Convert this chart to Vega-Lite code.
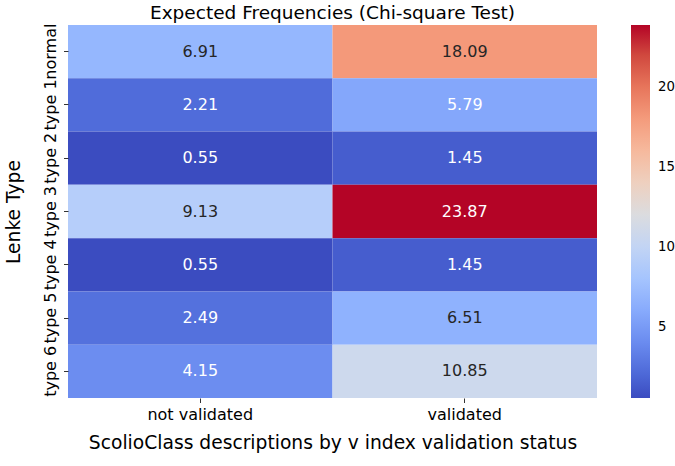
{
  "$schema": "https://vega.github.io/schema/vega-lite/v6.json",
  "autosize": "none",
  "width": 529,
  "height": 373,
  "padding": {"left": 68, "top": 25, "right": 78, "bottom": 68},
  "background": "white",
  "title": {"text": "Expected Frequencies (Chi-square Test)", "fontSize": 18.5, "font": "DejaVu Sans", "fontWeight": "normal", "anchor": "middle", "offset": 1, "color": "#000000"},
  "data": {"values": [
    {"type": "normal", "status": "not validated", "value": 6.91},
    {"type": "normal", "status": "validated", "value": 18.09},
    {"type": "type 1", "status": "not validated", "value": 2.21},
    {"type": "type 1", "status": "validated", "value": 5.79},
    {"type": "type 2", "status": "not validated", "value": 0.55},
    {"type": "type 2", "status": "validated", "value": 1.45},
    {"type": "type 3", "status": "not validated", "value": 9.13},
    {"type": "type 3", "status": "validated", "value": 23.87},
    {"type": "type 4", "status": "not validated", "value": 0.55},
    {"type": "type 4", "status": "validated", "value": 1.45},
    {"type": "type 5", "status": "not validated", "value": 2.49},
    {"type": "type 5", "status": "validated", "value": 6.51},
    {"type": "type 6", "status": "not validated", "value": 4.15},
    {"type": "type 6", "status": "validated", "value": 10.85}
  ]},
  "encoding": {
    "x": {"field": "status", "type": "nominal", "sort": ["not validated", "validated"],
      "scale": {"paddingInner": 0, "paddingOuter": 0},
      "axis": {"title": "ScolioClass descriptions by v index validation status", "labelAngle": 0, "domain": false, "tickSize": 4.5, "tickColor": "#333333", "labelPadding": 4, "titlePadding": 11, "labelOverlap": false}},
    "y": {"field": "type", "type": "nominal", "sort": ["normal", "type 1", "type 2", "type 3", "type 4", "type 5", "type 6"],
      "scale": {"paddingInner": 0, "paddingOuter": 0},
      "axis": {"title": "Lenke Type", "labelAngle": 270, "labelAlign": "center", "labelBaseline": "bottom", "domain": false, "tickSize": 4.5, "tickColor": "#333333", "labelPadding": 5, "titlePadding": 19, "labelOverlap": false}}
  },
  "layer": [
    {"mark": {"type": "rect"},
      "encoding": {"color": {"field": "value", "type": "quantitative",
        "scale": {"type": "linear",
          "domain": [0.55, 2.0075, 3.465, 4.9225, 6.38, 7.8375, 9.295, 10.7525, 12.21, 13.6675, 15.125, 16.5825, 18.04, 19.4975, 20.955, 22.4125, 23.87],
          "range": ["#3b4cc0", "#4d68d7", "#6282ea", "#779af7", "#8db0fe", "#a3c2ff", "#b8d0f9", "#ccd9ee", "#dddddd", "#ecd3c5", "#f5c4ac", "#f7b193", "#f49a7b", "#ec7f63", "#de604d", "#cb3e38", "#b40426"]},
        "legend": {"title": null, "values": [5, 10, 15, 20], "gradientLength": 373, "gradientThickness": 19, "offset": 34, "gradientStrokeWidth": 0, "labelOffset": 8, "labelFontSize": 13.3, "labelFont": "DejaVu Sans", "labelColor": "#000000"}}}},
    {"mark": {"type": "text", "fontSize": 16, "font": "DejaVu Sans"},
      "encoding": {
        "text": {"field": "value", "type": "quantitative", "format": ".2f"},
        "color": {"condition": {"test": "datum.value < 6 || datum.value > 20", "value": "#ffffff"}, "value": "#262626"}}}
  ],
  "config": {
    "view": {"stroke": null},
    "legend": {"gradientVerticalMaxLength": 400, "gradientVerticalMinLength": 100},
    "axis": {"labelFont": "DejaVu Sans", "labelFontSize": 16, "labelColor": "#000000", "titleFont": "DejaVu Sans", "titleFontSize": 18.7, "titleFontWeight": "normal", "titleColor": "#000000", "grid": false}
  }
}
